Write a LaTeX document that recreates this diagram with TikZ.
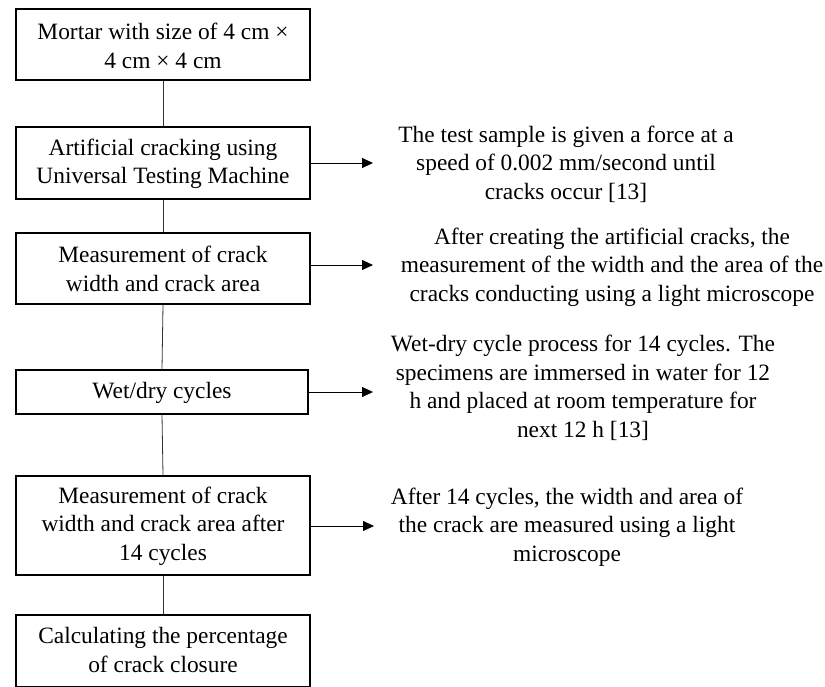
\documentclass[tikz,border=0pt]{standalone}
\usepackage{fontspec}
\setmainfont{Liberation Serif}
\usetikzlibrary{arrows.meta}
\begin{document}
\begin{tikzpicture}[x=1pt,y=-1pt,
  stepbox/.style={draw=black,line width=1.4pt,fill=white},
  boxtext/.style={align=center,font=\fontsize{23.4}{28.5}\selectfont,inner sep=0pt},
  desc/.style={align=center,font=\fontsize{23.4}{28.5}\selectfont,inner sep=0pt},
  link/.style={draw=black!80,line width=0.8pt},
  arr/.style={draw=black,line width=0.8pt,-{Triangle[length=11pt,width=10pt]}}]
\useasboundingbox[fill=white] (0,0) rectangle (825,686);
% boxes
\node[stepbox,minimum width=294pt,minimum height=71pt,inner sep=0pt] (b1) at (163,44.5) {};
\node[stepbox,minimum width=294pt,minimum height=72pt,inner sep=0pt] (b2) at (163,163) {};
\node[stepbox,minimum width=294pt,minimum height=71pt,inner sep=0pt] (b3) at (163,268.5) {};
\node[stepbox,minimum width=292pt,minimum height=44pt,inner sep=0pt] (b4) at (162,392) {};
\node[stepbox,minimum width=294pt,minimum height=99pt,inner sep=0pt] (b5) at (163,525.5) {};
\node[stepbox,minimum width=294pt,minimum height=72pt,inner sep=0pt] (b6) at (163,651) {};
% box texts
\node[boxtext] (l1) at (163,46) {Mortar with size of 4 cm ×\\4 cm × 4 cm};
\node[boxtext] (l2) at (163,164) {Artificial cracking using\\Universal Testing Machine};
\node[boxtext] (l3) at (163,269) {Measurement of crack\\width and crack area};
\node[boxtext] (l4) at (162,393) {Wet/dry cycles};
\node[boxtext] (l5) at (163,526) {Measurement of crack\\width and crack area after\\14 cycles};
\node[boxtext] (l6) at (163,650) {Calculating the percentage\\of crack closure};
% connectors
\draw[link] (b1.south) -- (b2.north);
\draw[link] (b2.south) -- (b3.north);
\draw[link] (b3.south) -- (b4.north);
\draw[link] (b4.south) -- (b5.north);
\draw[link] (b5.south) -- (b6.north);
% right descriptions
\node[desc] (d1) at (566,164) {The test sample is given a force at a\\speed of 0.002 mm/second until\\cracks occur [13]};
\node[desc] (d2) at (612,267) {After creating the artificial cracks, the\\measurement of the width and the area of the\\cracks conducting using a light microscope};
\node[desc] (d3) at (583,388) {Wet-dry cycle process for 14 cycles. The\\specimens are immersed in water for 12\\h and placed at room temperature for\\next 12 h [13]};
\node[desc] (d4) at (567,527) {After 14 cycles, the width and area of\\the crack are measured using a light\\microscope};
% arrow end points
\coordinate (e1) at (373,163);
\coordinate (e2) at (373,265);
\coordinate (e3) at (373,392);
\coordinate (e4) at (374,526);
\draw[arr] (b2.east) -- (e1);
\draw[arr] (b3.east |- e2) -- (e2);
\draw[arr] (b4.east) -- (e3);
\draw[arr] (b5.east |- e4) -- (e4);
\end{tikzpicture}
\end{document}
